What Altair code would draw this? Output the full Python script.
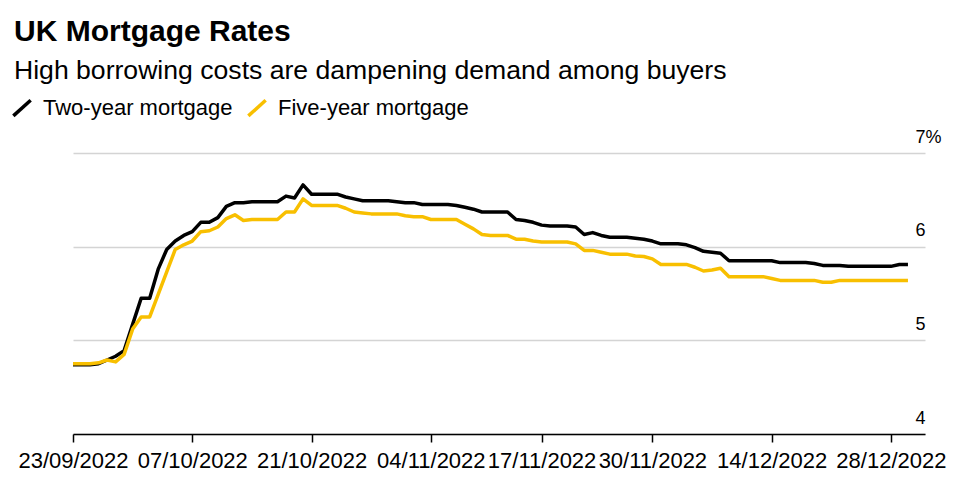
import altair as alt
import pandas as pd

start_date = "2022-09-23"
series_names = ["Two-year mortgage", "Five-year mortgage"]
series_colors = ["#000000", "#f8bf00"]

two_year = [
    4.74, 4.74, 4.74, 4.75, 4.79, 4.83, 4.89, 5.17, 5.45, 5.45,
    5.76, 5.97, 6.06, 6.12, 6.16, 6.26, 6.26, 6.31, 6.43, 6.47,
    6.47, 6.48, 6.48, 6.48, 6.48, 6.54, 6.52, 6.66, 6.56, 6.56,
    6.56, 6.56, 6.53, 6.51, 6.49, 6.49, 6.49, 6.49, 6.48, 6.47,
    6.47, 6.45, 6.45, 6.45, 6.45, 6.44, 6.42, 6.40, 6.37, 6.37,
    6.37, 6.37, 6.29, 6.28, 6.26, 6.23, 6.22, 6.22, 6.22, 6.21,
    6.13, 6.15, 6.12, 6.10, 6.10, 6.10, 6.09, 6.08, 6.06, 6.03,
    6.03, 6.03, 6.02, 5.99, 5.95, 5.94, 5.93, 5.85, 5.85, 5.85,
    5.85, 5.85, 5.85, 5.83, 5.83, 5.83, 5.83, 5.82, 5.80, 5.80,
    5.80, 5.79, 5.79, 5.79, 5.79, 5.79, 5.79, 5.81, 5.81,
]

five_year = [
    4.75, 4.75, 4.75, 4.76, 4.79, 4.77, 4.85, 5.12, 5.25, 5.25,
    5.49, 5.73, 5.97, 6.02, 6.06, 6.16, 6.17, 6.21, 6.30, 6.34,
    6.28, 6.29, 6.29, 6.29, 6.29, 6.37, 6.37, 6.51, 6.44, 6.44,
    6.44, 6.44, 6.41, 6.37, 6.36, 6.35, 6.35, 6.35, 6.35, 6.33,
    6.32, 6.32, 6.29, 6.29, 6.29, 6.29, 6.24, 6.19, 6.13, 6.12,
    6.12, 6.12, 6.08, 6.08, 6.06, 6.05, 6.05, 6.05, 6.05, 6.03,
    5.96, 5.96, 5.94, 5.92, 5.92, 5.92, 5.90, 5.895, 5.87, 5.81,
    5.81, 5.81, 5.81, 5.78, 5.74, 5.75, 5.77, 5.68, 5.68, 5.68,
    5.68, 5.68, 5.66, 5.64, 5.64, 5.64, 5.64, 5.64, 5.62, 5.62,
    5.64, 5.64, 5.64, 5.64, 5.64, 5.64, 5.64, 5.64, 5.64,
]

tick_dates = [(2022, 9, 23), (2022, 10, 7), (2022, 10, 21), (2022, 11, 4),
              (2022, 11, 17), (2022, 11, 30), (2022, 12, 14), (2022, 12, 28)]
y_ticks = [4, 5, 6, 7]

dates = pd.date_range(start_date, periods=len(two_year), freq="D")
df = pd.concat([
    pd.DataFrame({"date": dates, "rate": two_year, "series": series_names[0]}),
    pd.DataFrame({"date": dates, "rate": five_year, "series": series_names[1]}),
])

FONT = "Liberation Sans"

x_enc = alt.X(
    "date:T",
    scale=alt.Scale(domain=[alt.DateTime(year=2022, month=9, date=23),
                            alt.DateTime(year=2023, month=1, date=1)]),
    axis=alt.Axis(
        values=[alt.DateTime(year=y, month=m, date=d) for (y, m, d) in tick_dates],
        format="%d/%m/%Y", title=None, grid=False,
        domainColor="#000000", domainWidth=1.5,
        tickColor="#000000", tickWidth=1.5, tickSize=8,
        labelFont=FONT, labelFontSize=22, labelColor="#000000",
        labelPadding=8, labelFlush=False, labelOverlap=False,
    ),
)
y_enc = alt.Y(
    "rate:Q",
    scale=alt.Scale(domain=[4, 7], nice=False, zero=False),
    axis=alt.Axis(
        orient="right", values=y_ticks, title=None,
        labelExpr="datum.value == 7 ? '7%' : datum.label",
        domain=False, ticks=False, grid=True,
        gridColor="#d4d4d4", gridWidth=1.5,
        labelAlign="left", labelBaseline="alphabetic",
        labelPadding=-10, labelOffset=-11,
        labelFont=FONT, labelFontSize=18, labelColor="#000000",
    ),
)
color_enc = alt.Color(
    "series:N",
    scale=alt.Scale(domain=series_names, range=series_colors),
    legend=alt.Legend(
        title=None, orient="none", legendX=-62, legendY=-56,
        direction="horizontal",
        symbolType="M-1,0.9L1,-0.9", symbolSize=300, symbolStrokeWidth=3.5,
        labelFont=FONT, labelFontSize=22, labelColor="#000000",
        labelOffset=10, columnPadding=8, labelLimit=400,
    ),
)

base = alt.Chart(df).encode(x=x_enc, y=y_enc, color=color_enc)
line_two = base.transform_filter(alt.datum.series == series_names[0]).mark_line(strokeWidth=3.5, strokeJoin="round")
line_five = base.transform_filter(alt.datum.series == series_names[1]).mark_line(strokeWidth=3.5, strokeJoin="round")

chart = alt.layer(line_two, line_five).properties(
    width=852, height=281,
    background="#ffffff",
    padding={"left": 73, "top": 153, "right": 28, "bottom": 57},
    autosize=alt.AutoSizeParams(type="none"),
    title=alt.TitleParams(
        text="UK Mortgage Rates",
        subtitle="High borrowing costs are dampening demand among buyers",
        anchor="start", frame="group", dx=-59, dy=-8,
        font=FONT, fontSize=30, fontWeight="bold", color="#000000",
        subtitleFont=FONT, subtitleFontSize=26.6, subtitleColor="#000000",
        subtitlePadding=11,
    ),
).configure_view(strokeWidth=0, stroke="transparent")

chart.save("out.html", embed_options={"renderer": "svg", "actions": False})
